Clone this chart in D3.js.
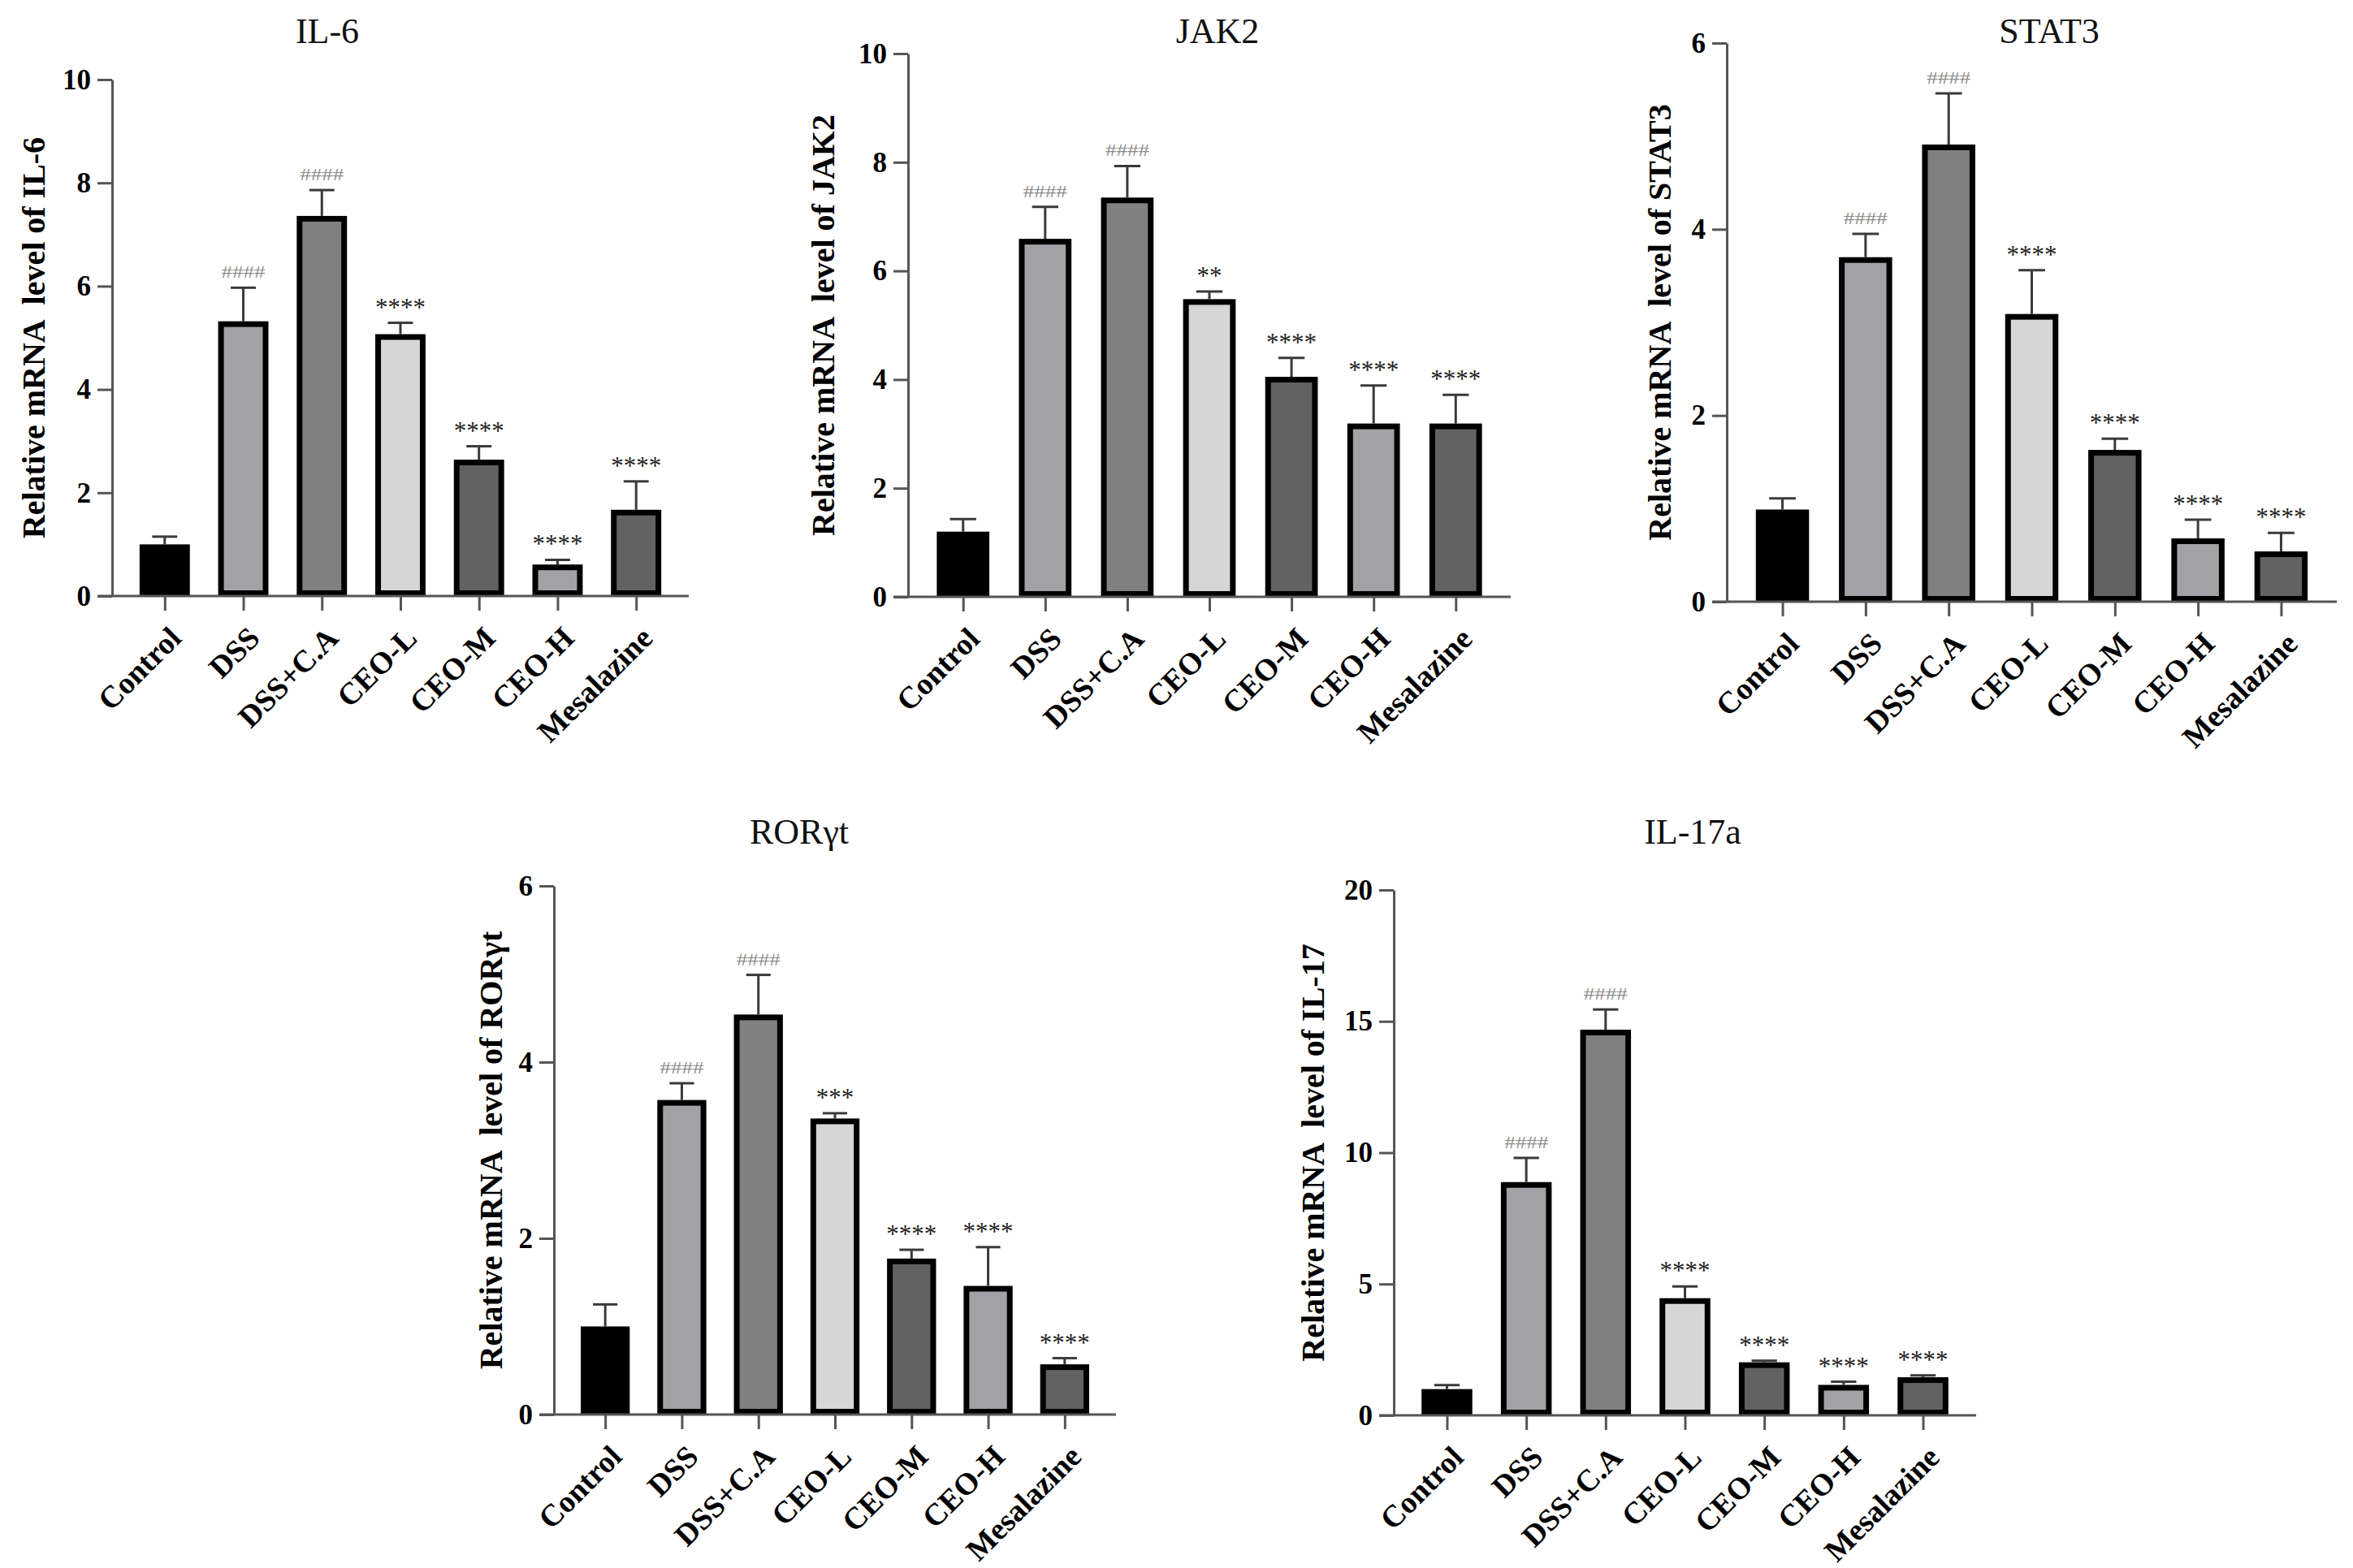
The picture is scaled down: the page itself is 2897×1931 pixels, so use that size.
<!DOCTYPE html>
<html>
<head>
<meta charset="utf-8">
<script src="https://cdn.jsdelivr.net/npm/d3@7"></script>
<style>
  body { margin: 0; background: #fff; }
  svg { display: block; font-family: "Liberation Serif", "Times New Roman", serif; }
</style>
</head>
<body>
<svg id="fig" width="2897" height="1931"></svg>
<script>
// groups shared by every panel
const groups = ["Control", "DSS", "DSS+C.A", "CEO-L", "CEO-M", "CEO-H", "Mesalazine"];

// IL-6
const il6Mean = [1.00, 5.32, 7.36, 5.07, 2.64, 0.61, 1.67];
const il6Err  = [0.15, 0.65, 0.50, 0.22, 0.26, 0.09, 0.55];
const il6Sig  = ["", "####", "####", "****", "****", "****", "****"];
const il6Ticks = [0, 2, 4, 6, 8, 10];

// JAK2
const jak2Mean = [1.20, 6.59, 7.35, 5.48, 4.05, 3.19, 3.19];
const jak2Err  = [0.23, 0.59, 0.58, 0.14, 0.35, 0.70, 0.53];
const jak2Sig  = ["", "####", "####", "**", "****", "****", "****"];
const jak2Ticks = [0, 2, 4, 6, 8, 10];

// STAT3
const stat3Mean = [0.99, 3.70, 4.91, 3.09, 1.63, 0.68, 0.54];
const stat3Err  = [0.12, 0.25, 0.55, 0.47, 0.12, 0.20, 0.20];
const stat3Sig  = ["", "####", "####", "****", "****", "****", "****"];
const stat3Ticks = [0, 2, 4, 6];

// RORγt
const rorMean = [1.00, 3.57, 4.54, 3.36, 1.77, 1.46, 0.57];
const rorErr  = [0.25, 0.19, 0.45, 0.06, 0.10, 0.44, 0.07];
const rorSig  = ["", "####", "####", "***", "****", "****", "****"];
const rorTicks = [0, 2, 4, 6];

// IL-17a
const il17Mean = [1.00, 8.88, 14.68, 4.46, 2.02, 1.16, 1.45];
const il17Err  = [0.15, 0.92, 0.77, 0.45, 0.06, 0.12, 0.07];
const il17Sig  = ["", "####", "####", "****", "****", "****", "****"];
const il17Ticks = [0, 5, 10, 15, 20];

const fills = ["#000000", "#a2a2a6", "#808080", "#d6d6d6", "#626262", "#a2a2a6", "#626262"];

const panels = [
  { title: "IL-6", ylab: "Relative mRNA  level of IL-6", mean: il6Mean, err: il6Err, sig: il6Sig, ticks: il6Ticks,
    x0: 138, x1: 848, y0: 734, y1: 98, tx: 403, ty: 53, lx: 55 },
  { title: "JAK2", ylab: "Relative mRNA  level of JAK2", mean: jak2Mean, err: jak2Err, sig: jak2Sig, ticks: jak2Ticks,
    x0: 1118, x1: 1860, y0: 735, y1: 66, tx: 1499, ty: 53, lx: 1027 },
  { title: "STAT3", ylab: "Relative mRNA  level of STAT3", mean: stat3Mean, err: stat3Err, sig: stat3Sig, ticks: stat3Ticks,
    x0: 2126, x1: 2877, y0: 741, y1: 53, tx: 2523, ty: 53, lx: 2057 },
  { title: "RORγt", ylab: "Relative mRNA  level of RORγt", mean: rorMean, err: rorErr, sig: rorSig, ticks: rorTicks,
    x0: 682, x1: 1374, y0: 1742, y1: 1091, tx: 984, ty: 1039, lx: 618 },
  { title: "IL-17a", ylab: "Relative mRNA  level of IL-17", mean: il17Mean, err: il17Err, sig: il17Sig, ticks: il17Ticks,
    x0: 1716, x1: 2433, y0: 1743, y1: 1096, tx: 2084, ty: 1039, lx: 1630 }
];

const svg = d3.select("#fig");
const axisCol = "#555";
const bs = 7; // bar border

panels.forEach(p => {
  const g = svg.append("g");
  const x = d3.scalePoint().domain(groups).range([p.x0, p.x1]).padding(0.67);
  const y = d3.scaleLinear().domain([0, d3.max(p.ticks)]).range([p.y0, p.y1]);
  const bw = x.step() * 0.64;
  const rows = groups.map((k, i) => ({ k, m: p.mean[i], e: p.err[i], s: p.sig[i], f: fills[i] }));

  // bars
  g.selectAll("rect.bar").data(rows).enter().append("rect")
    .attr("class", "bar")
    .attr("x", d => x(d.k) - bw / 2 + bs / 2)
    .attr("width", bw - bs)
    .attr("y", d => y(d.m) + bs / 2)
    .attr("height", d => y(0) - y(d.m) - bs)
    .attr("fill", d => d.f)
    .attr("stroke", "#000")
    .attr("stroke-width", bs);

  // error bars (upper only)
  const eb = g.selectAll("g.err").data(rows).enter().append("g").attr("class", "err")
    .attr("stroke", "#3a3a3a").attr("stroke-width", 3);
  eb.append("line")
    .attr("x1", d => x(d.k)).attr("x2", d => x(d.k))
    .attr("y1", d => y(d.m)).attr("y2", d => y(d.m + d.e));
  eb.append("line")
    .attr("x1", d => x(d.k) - bw / 4).attr("x2", d => x(d.k) + bw / 4)
    .attr("y1", d => y(d.m + d.e)).attr("y2", d => y(d.m + d.e));

  // significance marks
  g.selectAll("text.sig").data(rows.filter(d => d.s)).enter().append("text")
    .attr("class", "sig")
    .attr("text-anchor", "middle")
    .attr("transform", d => d.s[0] === "#"
      ? `translate(${x(d.k)},${y(d.m + d.e) - 12}) scale(1,0.75)`
      : `translate(${x(d.k)},${y(d.m + d.e) - 9})`)
    .attr("font-size", d => d.s[0] === "#" ? 27 : 31)
    .attr("fill", d => d.s[0] === "#" ? "#8c8c8c" : "#222")
    .text(d => d.s);

  // y axis
  const ya = g.append("g").attr("transform", `translate(${p.x0},0)`)
    .call(d3.axisLeft(y).tickValues(p.ticks).tickFormat(d3.format("d"))
      .tickSize(18).tickSizeOuter(0).tickPadding(8));
  ya.attr("font-family", null);
  ya.select(".domain").attr("stroke", axisCol).attr("stroke-width", 3);
  ya.selectAll(".tick line").attr("stroke", axisCol).attr("stroke-width", 3);
  ya.selectAll(".tick text").attr("font-size", 35).attr("font-weight", "bold").attr("fill", "#000");

  // x axis
  const xa = g.append("g").attr("transform", `translate(0,${p.y0})`)
    .call(d3.axisBottom(x).tickSize(18).tickSizeOuter(0));
  xa.attr("font-family", null);
  xa.select(".domain").attr("d", `M${p.x0 - 18},0H${p.x1}`)
    .attr("stroke", axisCol).attr("stroke-width", 3);
  xa.selectAll(".tick line").attr("stroke", axisCol).attr("stroke-width", 3);
  xa.selectAll(".tick text")
    .attr("x", 0).attr("y", 0).attr("dy", null)
    .attr("text-anchor", "end")
    .attr("transform", "translate(22,54) rotate(-45)")
    .attr("font-size", 38).attr("font-weight", "bold")
    .attr("fill", "#000");

  // title
  g.append("text")
    .attr("x", p.tx).attr("y", p.ty)
    .attr("text-anchor", "middle")
    .attr("font-size", 44)
    .attr("fill", "#111")
    .text(p.title);

  // y label
  g.append("text")
    .attr("transform", `translate(${p.lx},${(p.y0 + p.y1) / 2}) rotate(-90)`)
    .attr("text-anchor", "middle")
    .attr("font-size", 40)
    .attr("font-weight", "bold")
    .style("white-space", "pre")
    .attr("fill", "#000")
    .text(p.ylab);
});
</script>
</body>
</html>
